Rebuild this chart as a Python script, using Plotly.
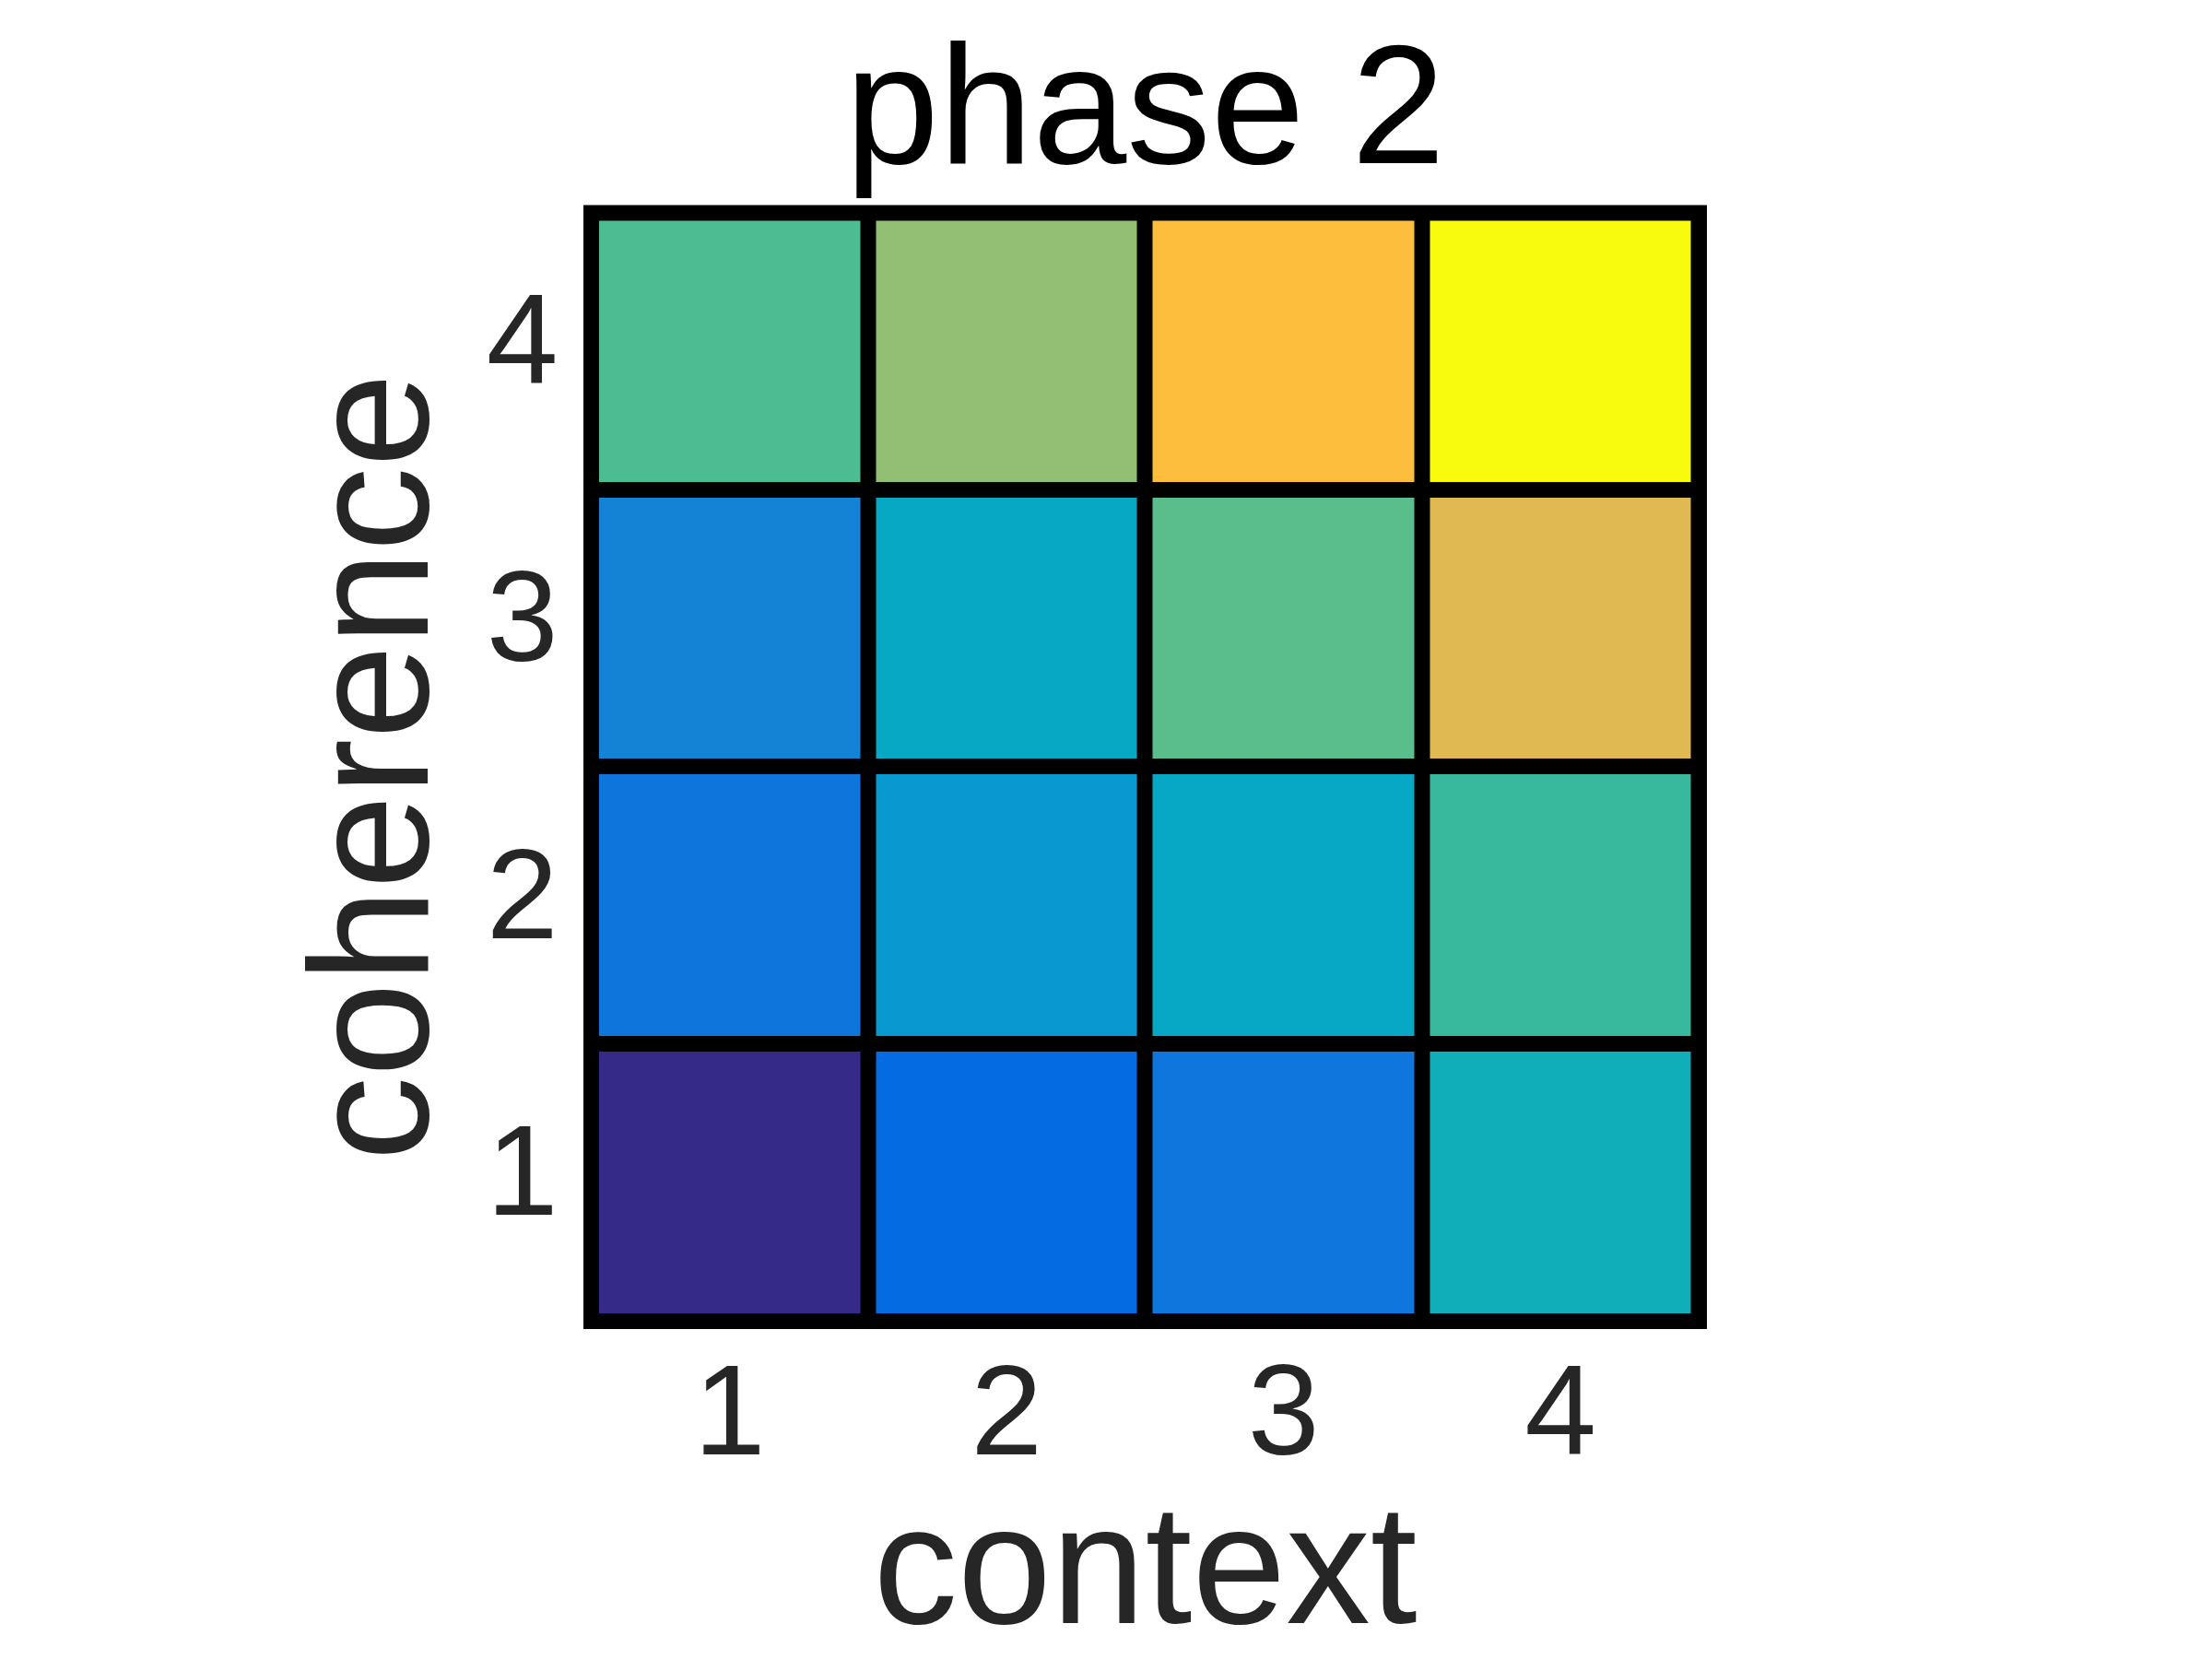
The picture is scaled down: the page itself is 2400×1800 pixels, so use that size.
import plotly.graph_objects as go

# ---- data (normalised values) ----
context = [1, 2, 3, 4]
coherence = [1, 2, 3, 4]
tick_labels = ["1", "2", "3", "4"]
z_coherence1 = [0.000, 0.155, 0.194, 0.430]
z_coherence2 = [0.190, 0.320, 0.386, 0.508]
z_coherence3 = [0.244, 0.390, 0.556, 0.778]
z_coherence4 = [0.540, 0.635, 0.841, 1.000]
title_text = "phase 2"
x_label = "context"
y_label = "coherence"

# ---- MATLAB parula colormap (64 entries) ----
parula = [
    (0.2081, 0.1663, 0.5292), (0.2116, 0.1898, 0.5777), (0.2123, 0.2138, 0.6270),
    (0.2081, 0.2386, 0.6771), (0.1959, 0.2645, 0.7279), (0.1707, 0.2919, 0.7792),
    (0.1253, 0.3242, 0.8303), (0.0591, 0.3598, 0.8683), (0.0117, 0.3875, 0.8820),
    (0.0060, 0.4086, 0.8828), (0.0165, 0.4266, 0.8786), (0.0329, 0.4430, 0.8720),
    (0.0498, 0.4586, 0.8641), (0.0629, 0.4737, 0.8554), (0.0723, 0.4887, 0.8467),
    (0.0779, 0.5040, 0.8384), (0.0793, 0.5200, 0.8312), (0.0749, 0.5375, 0.8263),
    (0.0641, 0.5570, 0.8240), (0.0488, 0.5772, 0.8228), (0.0343, 0.5966, 0.8199),
    (0.0265, 0.6137, 0.8135), (0.0239, 0.6287, 0.8038), (0.0231, 0.6418, 0.7913),
    (0.0228, 0.6535, 0.7768), (0.0267, 0.6642, 0.7607), (0.0384, 0.6743, 0.7436),
    (0.0590, 0.6838, 0.7254), (0.0843, 0.6928, 0.7062), (0.1133, 0.7015, 0.6859),
    (0.1453, 0.7098, 0.6646), (0.1801, 0.7177, 0.6424), (0.2178, 0.7250, 0.6193),
    (0.2586, 0.7317, 0.5954), (0.3022, 0.7376, 0.5712), (0.3482, 0.7424, 0.5473),
    (0.3953, 0.7459, 0.5244), (0.4420, 0.7481, 0.5033), (0.4871, 0.7491, 0.4840),
    (0.5300, 0.7491, 0.4661), (0.5709, 0.7485, 0.4494), (0.6099, 0.7473, 0.4337),
    (0.6473, 0.7456, 0.4188), (0.6834, 0.7435, 0.4044), (0.7184, 0.7411, 0.3905),
    (0.7525, 0.7384, 0.3768), (0.7858, 0.7356, 0.3633), (0.8185, 0.7327, 0.3498),
    (0.8507, 0.7299, 0.3360), (0.8824, 0.7274, 0.3217), (0.9139, 0.7258, 0.3063),
    (0.9450, 0.7261, 0.2886), (0.9739, 0.7314, 0.2666), (0.9938, 0.7455, 0.2403),
    (0.9990, 0.7653, 0.2164), (0.9955, 0.7861, 0.1967), (0.9880, 0.8066, 0.1794),
    (0.9789, 0.8271, 0.1633), (0.9697, 0.8481, 0.1475), (0.9626, 0.8705, 0.1309),
    (0.9589, 0.8949, 0.1132), (0.9598, 0.9218, 0.0948), (0.9661, 0.9514, 0.0755),
    (0.9763, 0.9831, 0.0538),
]
n = len(parula) - 1
colorscale = [
    [i / n, "rgb(%d,%d,%d)" % (round(r * 255), round(g * 255), round(b * 255))]
    for i, (r, g, b) in enumerate(parula)
]

FONT = "Liberation Sans, Arial, Helvetica, sans-serif"
TXT = "#262626"
LW = 17

fig = go.Figure(
    go.Heatmap(
        z=[z_coherence1, z_coherence2, z_coherence3, z_coherence4],
        x=context,
        y=coherence,
        zmin=0,
        zmax=1,
        colorscale=colorscale,
        showscale=False,
        xgap=LW,
        ygap=LW,
        hoverinfo="skip",
    )
)

fig.add_shape(
    type="rect", xref="x domain", yref="y domain",
    x0=0, x1=1, y0=0, y1=1,
    line=dict(color="black", width=LW), layer="above",
)

fig.update_layout(
    width=2400,
    height=1800,
    margin=dict(l=0, r=0, t=0, b=0),
    paper_bgcolor="white",
    plot_bgcolor="black",
    font=dict(family=FONT, color=TXT),
    title=dict(
        text=title_text,
        font=dict(family=FONT, size=183, color="black"),
        x=1242.5 / 2400, xanchor="center",
        y=1 - 177 / 1800, yanchor="bottom", yref="container",
    ),
    xaxis=dict(
        domain=[641.5 / 2400, 1843.5 / 2400],
        range=[0.5, 4.5],
        tickvals=context,
        ticktext=tick_labels,
        ticks="",
        showgrid=False,
        zeroline=False,
        showline=False,
        tickfont=dict(size=140, color=TXT),
        ticklabelstandoff=3,
        title=dict(text=x_label, font=dict(size=183, color=TXT), standoff=34),
        fixedrange=True,
    ),
    yaxis=dict(
        domain=[1 - 1433.5 / 1800, 1 - 231 / 1800],
        range=[0.5, 4.5],
        tickvals=coherence,
        ticktext=tick_labels,
        ticks="",
        showgrid=False,
        zeroline=False,
        showline=False,
        tickfont=dict(size=140, color=TXT),
        ticklabelstandoff=35,
        ticklabelshift=-14,
        title=dict(text=y_label, font=dict(size=183, color=TXT), standoff=0),
        fixedrange=True,
    ),
)

fig.write_html("out.html")
